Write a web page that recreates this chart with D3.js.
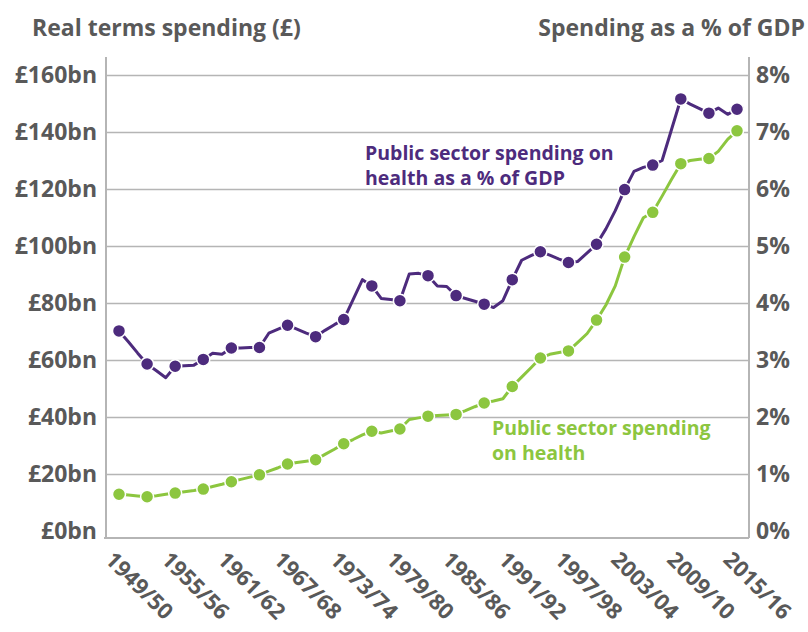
<!DOCTYPE html>
<html>
<head>
<meta charset="utf-8">
<script src="https://cdn.jsdelivr.net/npm/d3@7/dist/d3.min.js"></script>
<style>
  body { margin: 0; background: #fff; }
  text { font-family: "Open Sans", sans-serif; font-weight: 700; }
</style>
</head>
<body>
<svg id="chart" width="808" height="632"></svg>
<script>
// financial year start, 1949/50 .. 2015/16
var years = [1949, 1950, 1951, 1952, 1953, 1954, 1955, 1956, 1957, 1958,
  1959, 1960, 1961, 1962, 1963, 1964, 1965, 1966, 1967, 1968,
  1969, 1970, 1971, 1972, 1973, 1974, 1975, 1976, 1977, 1978,
  1979, 1980, 1981, 1982, 1983, 1984, 1985, 1986, 1987, 1988,
  1989, 1990, 1991, 1992, 1993, 1994, 1995, 1996, 1997, 1998,
  1999, 2000, 2001, 2002, 2003, 2004, 2005, 2006, 2007, 2008,
  2009, 2010, 2011, 2012, 2013, 2014, 2015];

// public sector spending on health, real terms, £bn
var spending = [12.9, 12.6, 12.3, 12.0, 12.4, 12.9, 13.3, 13.8, 14.2, 14.7,
  15.6, 16.4, 17.3, 18.1, 18.9, 19.7, 21.0, 22.2, 23.5, 24.0,
  24.5, 25.0, 26.9, 28.7, 30.6, 32.1, 33.7, 35.0, 34.4, 35.1,
  35.8, 39.1, 39.7, 40.3, 40.5, 40.7, 40.9, 42.2, 43.6, 44.9,
  45.6, 46.4, 50.7, 54.0, 57.3, 60.7, 62.0, 62.6, 63.2, 66.2,
  69.3, 74.0, 79.3, 86.0, 96.1, 103.3, 109.9, 111.8, 117.5, 123.3,
  128.9, 130.0, 130.4, 130.7, 133.2, 137.4, 140.4];

// public sector spending on health as a % of GDP
var gdpShare = [3.51, 3.32, 3.12, 2.93, 2.81, 2.69, 2.89, 2.90, 2.91, 3.01,
  3.12, 3.10, 3.21, 3.21, 3.22, 3.22, 3.47, 3.54, 3.61, 3.54,
  3.47, 3.41, 3.52, 3.62, 3.71, 4.06, 4.41, 4.30, 4.08, 4.06,
  4.04, 4.51, 4.52, 4.48, 4.30, 4.29, 4.13, 4.08, 4.03, 3.98,
  3.92, 4.04, 4.41, 4.75, 4.83, 4.90, 4.84, 4.77, 4.71, 4.73,
  4.88, 5.03, 5.30, 5.62, 5.99, 6.31, 6.38, 6.42, 6.50, 7.04,
  7.58, 7.49, 7.41, 7.33, 7.42, 7.31, 7.40];

var markerYears = [1949, 1952, 1955, 1958, 1961, 1964, 1967, 1970, 1973, 1976,
  1979, 1982, 1985, 1988, 1991, 1994, 1997, 2000, 2003, 2006,
  2009, 2012, 2015];

var tickYears = [1949, 1955, 1961, 1967, 1973, 1979, 1985, 1991, 1997, 2003, 2009, 2015];
var tickLabels = ["1949/50", "1955/56", "1961/62", "1967/68", "1973/74", "1979/80",
  "1985/86", "1991/92", "1997/98", "2003/04", "2009/10", "2015/16"];

var spendTicks = [0, 20, 40, 60, 80, 100, 120, 140, 160];
var gdpTicks = [0, 1, 2, 3, 4, 5, 6, 7, 8];

var purple = "#4d2b7d",
    green = "#8cc63f",
    grey = "#595959",
    gridGrey = "#b5b5b5";

var plotLeft = 106, plotRight = 749,
    plotTop = 75, plotBottom = 531,
    axisY = 538;

var x = d3.scaleLinear().domain([1949, 2015]).range([119, 737]);
var yL = d3.scaleLinear().domain([0, 160]).range([plotBottom, plotTop]);
var yR = d3.scaleLinear().domain([0, 8]).range([plotBottom, plotTop]);

var svg = d3.select("#chart");

// gridlines + left labels
var gAxisL = svg.append("g")
  .attr("transform", "translate(" + plotLeft + ",0)")
  .call(d3.axisLeft(yL)
    .tickValues(spendTicks)
    .tickSize(-(plotRight - plotLeft))
    .tickPadding(9)
    .tickFormat(function(d) { return "£" + d + "bn"; }));
gAxisL.select(".domain").remove();
gAxisL.selectAll(".tick line")
  .attr("stroke", gridGrey)
  .attr("stroke-width", 1.5)
  .filter(function(d) { return d === 0; }).remove();
gAxisL.selectAll(".tick text")
  .attr("fill", grey)
  .style("font-size", "23px");

var gAxisR = svg.append("g")
  .attr("transform", "translate(" + plotRight + ",0)")
  .call(d3.axisRight(yR)
    .tickValues(gdpTicks)
    .tickSize(0)
    .tickPadding(7)
    .tickFormat(function(d) { return d + "%"; }));
gAxisR.select(".domain").remove();
gAxisR.selectAll(".tick text")
  .attr("fill", grey)
  .style("font-size", "23px");

// axis frame lines
svg.append("line")
  .attr("x1", plotLeft).attr("x2", plotLeft)
  .attr("y1", 57).attr("y2", axisY)
  .attr("stroke", gridGrey).attr("stroke-width", 2);
svg.append("line")
  .attr("x1", plotRight).attr("x2", plotRight)
  .attr("y1", 57).attr("y2", axisY)
  .attr("stroke", gridGrey).attr("stroke-width", 2);
svg.append("line")
  .attr("x1", plotLeft - 2).attr("x2", plotRight)
  .attr("y1", axisY).attr("y2", axisY)
  .attr("stroke", gridGrey).attr("stroke-width", 2);

// rotated year labels
svg.append("g").selectAll("text")
  .data(tickYears)
  .enter().append("text")
  .attr("transform", function(d) {
    return "translate(" + (x(d) - 15) + ",561)rotate(45)";
  })
  .attr("fill", grey)
  .style("font-size", "22px")
  .text(function(d, i) { return tickLabels[i]; });

// axis titles
svg.append("text")
  .attr("x", 32).attr("y", 36)
  .attr("fill", grey)
  .style("font-size", "23px")
  .text("Real terms spending (£)");
svg.append("text")
  .attr("x", 805).attr("y", 36)
  .attr("text-anchor", "end")
  .attr("fill", grey)
  .style("font-size", "23px")
  .text("Spending as a % of GDP");

// series
var series = [
  { values: spending, y: yL, color: green },
  { values: gdpShare, y: yR, color: purple }
];

series.forEach(function(s) {
  var pts = years.map(function(yr, i) { return { year: yr, v: s.values[i] }; });
  var line = d3.line()
    .x(function(d) { return x(d.year); })
    .y(function(d) { return s.y(d.v); });

  svg.append("path")
    .datum(pts)
    .attr("fill", "none")
    .attr("stroke", s.color)
    .attr("stroke-width", 3)
    .attr("stroke-linejoin", "round")
    .attr("d", line);

  svg.append("g").selectAll("circle")
    .data(pts.filter(function(d) { return markerYears.indexOf(d.year) >= 0; }))
    .enter().append("circle")
    .attr("cx", function(d) { return x(d.year); })
    .attr("cy", function(d) { return s.y(d.v); })
    .attr("r", 6.5)
    .attr("fill", s.color)
    .attr("stroke", "#fff")
    .attr("stroke-width", 1.5);
});

// series labels
var purpleLabel = svg.append("text")
  .attr("fill", purple)
  .style("font-size", "19.5px");
purpleLabel.append("tspan").attr("x", 365).attr("y", 160).text("Public sector spending on");
purpleLabel.append("tspan").attr("x", 365).attr("y", 185).text("health as a % of GDP");

var greenLabel = svg.append("text")
  .attr("fill", green)
  .style("font-size", "19.5px");
greenLabel.append("tspan").attr("x", 492).attr("y", 435).text("Public sector spending");
greenLabel.append("tspan").attr("x", 492).attr("y", 460).text("on health");
</script>
</body>
</html>
